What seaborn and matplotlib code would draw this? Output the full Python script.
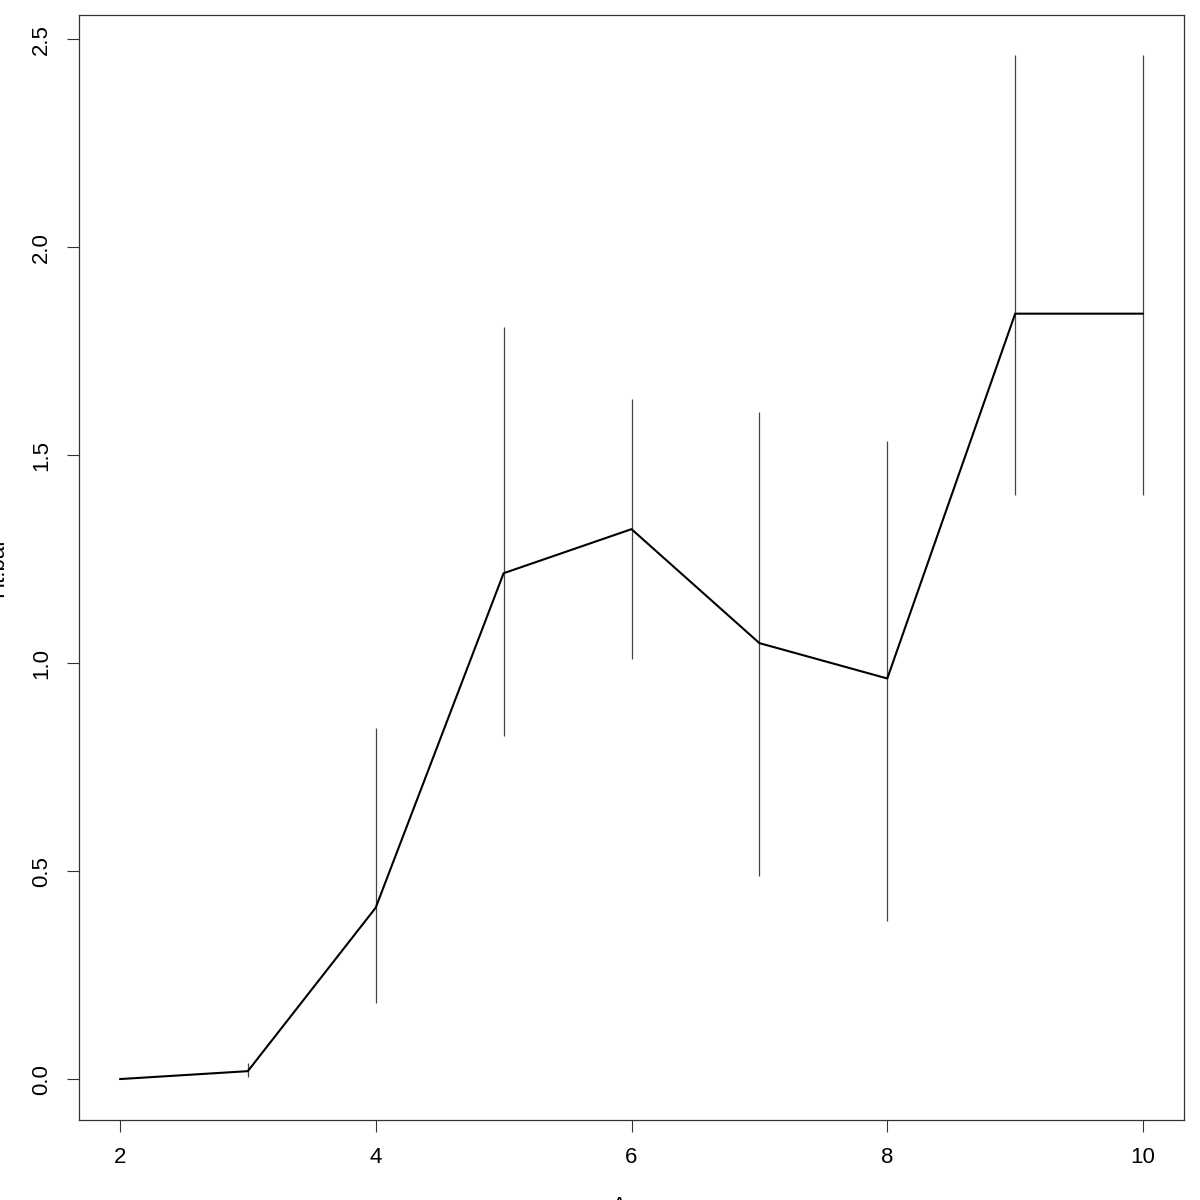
import numpy as np
import pandas as pd
import matplotlib
matplotlib.use("Agg")
import matplotlib.pyplot as plt
import seaborn as sb

# valores
age = [2, 3, 4, 5, 6, 7, 8, 9, 10]
mean_val = [0.0, 0.019, 0.412, 1.216, 1.322, 1.048, 0.963, 1.840, 1.840]
upper = [np.nan, 0.038, 0.845, 1.809, 1.635, 1.604, 1.534, 2.461, 2.461]
lower = [np.nan, 0.005, 0.183, 0.824, 1.009, 0.489, 0.381, 1.404, 1.404]

x_ticks = [2, 4, 6, 8, 10]
y_ticks = [0.0, 0.5, 1.0, 1.5, 2.0, 2.5]

dataset = pd.DataFrame({'Age': age, 'mean': mean_val, 'upper': upper, 'lower': lower})

sb.set_style('ticks')
plt.rcParams['font.family'] = ['Liberation Sans', 'DejaVu Sans']
plt.rcParams['text.color'] = 'black'
plt.rcParams['axes.labelcolor'] = 'black'
plt.rcParams['xtick.color'] = '#333333'
plt.rcParams['ytick.color'] = '#333333'
plt.rcParams['xtick.labelcolor'] = 'black'
plt.rcParams['ytick.labelcolor'] = 'black'

fig = plt.figure(figsize=(12, 12), dpi=100)
ax = fig.add_axes([79 / 1200, 80 / 1200, 1105 / 1200, 1105 / 1200])

# barras de erro verticais, sem tampa
barras = dataset.dropna()
ax.vlines(barras['Age'], barras['lower'], barras['upper'], color='#444444', linewidth=0.9)

# linha das medias
sb.lineplot(data=dataset, x='Age', y='mean', color='black', linewidth=1.5, ax=ax)

ax.set_xlim(1.68, 10.32)
ax.set_ylim(-0.0984, 2.558)
ax.set_xticks(x_ticks)
ax.set_xticklabels([str(t) for t in x_ticks])
ax.set_yticks(y_ticks)
ax.set_yticklabels([f'{t:.1f}' for t in y_ticks], rotation=90, va='center')

ax.tick_params(axis='both', length=8.6, width=0.8, labelsize=16, pad=11)
for s in ax.spines.values():
    s.set_visible(True)
    s.set_linewidth(0.9)
    s.set_color('#333333')

# rotulos dos eixos quase fora da figura, como no original
ax.set_xlabel('Age', fontsize=16)
ax.set_ylabel('Ht.bal', fontsize=16)
ax.xaxis.set_label_coords(0.5, -0.069)
ax.yaxis.set_label_coords(-0.0645, 0.5)

fig.savefig('out.png', dpi=100)
